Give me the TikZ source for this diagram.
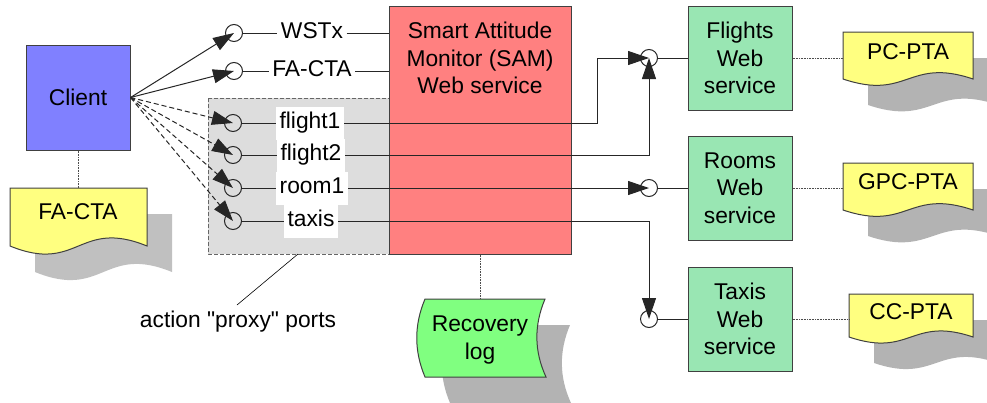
\documentclass[tikz,border=0pt]{standalone}
\usepackage{fontspec}
\setmainfont{Liberation Sans}[Ligatures=TeXOff]
\usetikzlibrary{arrows.meta,calc}

\definecolor{clientblue}{HTML}{8080FF}
\definecolor{samred}{HTML}{FF8080}
\definecolor{svcgreen}{HTML}{99E6B3}
\definecolor{docyellow}{HTML}{FFFF80}
\definecolor{loggreen}{HTML}{80FF80}
\definecolor{proxygray}{HTML}{DDDDDD}
\definecolor{shadowgray}{HTML}{B3B3B3}
\definecolor{shadowlight}{HTML}{C0C0C0}
\definecolor{edgegray}{HTML}{404040}

% document shape: flat top, wavy bottom  {x1}{y1}{x2}{y2}{wave}{style}
\newcommand{\docshape}[6]{%
  \path[#6] (#1,#2) -- (#3,#2) -- (#3,#4)
    .. controls ({(#1+#3)/2},{#4-#5}) and ({(#1+#3)/2},{#4+#5}) .. (#1,#4) -- cycle;}

% stored-data shape with curved sides  {x1}{y1}{x2}{y2}{style}
\newcommand{\logshape}[5]{%
  \path[#5] (#1,#2) -- (#3,#2)
    .. controls ({#3-11},{#2+(#4-#2)/3}) and ({#3-11},{#2+2*(#4-#2)/3}) .. ({#3+1},#4)
    -- (#1,#4)
    .. controls ({#1-11},{#2+2*(#4-#2)/3}) and ({#1-11},{#2+(#4-#2)/3}) .. (#1,#2) -- cycle;}

\tikzset{
  box/.style={rectangle, draw=edgegray, line width=1pt, inner sep=0pt, align=center},
  clientbox/.style={box, fill=clientblue, minimum width=104pt, minimum height=105pt},
  sambox/.style={box, fill=samred, minimum width=182pt, minimum height=248pt},
  svcbox/.style={box, fill=svcgreen, minimum width=104pt, minimum height=104pt},
  port/.style={circle, draw=black!85, line width=1pt, minimum size=17pt, inner sep=0pt},
  plabel/.style={rectangle, fill=white, inner xsep=3.5pt, inner ysep=0pt,
                 minimum height=33pt, text height=16.5pt, text depth=5pt},
  txt/.style={inner sep=0pt, align=center},
  conn/.style={draw=black!85, line width=1pt},
  arrowed/.style={-{Triangle[length=21pt,width=14pt]}},
  dashconn/.style={conn, dash pattern=on 5pt off 3pt},
  dotline/.style={draw=black!70, line width=0.8pt, dash pattern=on 1pt off 0.6pt},
  docfill/.style={fill=docyellow, draw=edgegray, line width=1pt},
  shadowfill/.style={fill=shadowgray},
}

\begin{document}
\begin{tikzpicture}[x=1pt, y=-1pt, font=\fontsize{22.8}{27.5}\selectfont]
\clip (0,0) rectangle (987,402);
\useasboundingbox (0,0) rectangle (987,402);

% ---------- shadows ----------
\begin{scope}[shift={(25,26)}]
  \docshape{10}{188}{147}{246}{28}{fill=shadowlight}
  \docshape{843}{32}{973}{79}{22}{shadowfill}
  \docshape{843}{163}{973}{210}{22}{shadowfill}
  \docshape{849}{294}{973}{337}{21}{shadowfill}
  \logshape{425}{299}{545}{377}{shadowfill}
\end{scope}

% ---------- client and its policy document ----------
\node[clientbox] (client) at (78,97.5) {Client};
\docshape{10}{188}{147}{246}{28}{docfill}
\node[txt] (factaT) at (78,212) {FA-CTA};
\coordinate (factaTop) at (78,188);
\draw[dotline] (client) -- (factaTop);

% ---------- proxy port group ----------
\path[fill=proxygray, draw=black!60, line width=1pt, dash pattern=on 4pt off 2pt]
  (208,98) rectangle (390,254);

% ---------- SAM service ----------
\node[sambox] (sam) at (480,130) {};
\node[txt] (samT) at (480,58) {Smart Attitude\\Monitor (SAM)\\Web service};

% recovery log
\logshape{425}{299}{545}{377}{fill=loggreen, draw=edgegray, line width=1pt}
\node[txt] (logT) at (480,340) {Recovery\\log};
\coordinate (logTop) at (480,299);
\draw[dotline] (sam) -- (logTop);

% ---------- SAM ports ----------
\node[port] (pW) at (234,33) {};
\node[port] (pA) at (234,71) {};
\node[port] (p1) at (233,123) {};
\node[port] (p2) at (233,155) {};
\node[port] (p3) at (233,188) {};
\node[port] (p4) at (233,221) {};

\node[plabel] (lW) at (312,33) {WSTx};
\node[plabel] (lA) at (312,71) {FA-CTA};
\node[plabel] (l1) at (310,123) {flight1};
\node[plabel] (l2) at (311,155) {flight2};
\node[plabel] (l3) at (312,188) {room1};
\node[plabel] (l4) at (311,221) {taxis};

% ---------- partner services ----------
\node[svcbox] (flights) at (740,58) {Flights\\Web\\service};
\node[svcbox] (rooms)   at (740,188) {Rooms\\Web\\service};
\node[svcbox] (taxis)   at (740,319) {Taxis\\Web\\service};

\node[port] (fP) at (649,58) {};
\node[port] (rP) at (649,188) {};
\node[port] (tP) at (649,319) {};

\draw[conn] (fP) -- (flights);
\draw[conn] (rP) -- (rooms);
\draw[conn] (tP) -- (taxis);

% partner policy documents
\docshape{843}{32}{973}{79}{22}{docfill}
\docshape{843}{163}{973}{210}{22}{docfill}
\docshape{849}{294}{973}{337}{21}{docfill}
\node[txt] (pcT)  at (908,52)  {PC-PTA};
\node[txt] (gpcT) at (908,182) {GPC-PTA};
\node[txt] (ccT)  at (911,312) {CC-PTA};
\coordinate (pcL)  at (843,58);
\coordinate (gpcL) at (843,188);
\coordinate (ccL)  at (849,319);
\draw[dotline] (flights) -- (pcL);
\draw[dotline] (rooms) -- (gpcL);
\draw[dotline] (taxis) -- (ccL);

% ---------- wiring ----------
\coordinate (bendA) at (597,58);
\draw[conn] (pW) -- (lW) -- (lW -| sam.west);
\draw[conn] (pA) -- (lA) -- (lA -| sam.west);
\draw[conn] (p1) -- (l1);
\draw[conn, arrowed] (l1) -- (l1 -| bendA) -- (bendA) -- (fP.center);
\draw[conn] (p2) -- (l2);
\draw[conn, arrowed] (l2) -- (l2 -| fP) -- (fP.center);
\draw[conn] (p3) -- (l3);
\draw[conn, arrowed] (l3) -- (rP.center);
\draw[conn] (p4) -- (l4);
\draw[conn, arrowed] (l4) -- (l4 -| tP) -- (tP.center);

% client invocations
\draw[conn, arrowed] (client.east) -- (pW.center);
\draw[conn, arrowed] (client.east) -- (pA.center);
\draw[dashconn, arrowed] (client.east) -- (p1.center);
\draw[dashconn, arrowed] (client.east) -- (p2.center);
\draw[dashconn, arrowed] (client.east) -- (p3.center);
\draw[dashconn, arrowed] (client.east) -- (p4.center);

% annotation
\coordinate (annTop) at (298,254);
\coordinate (annEnd) at (237,305);
\node[txt] (ann) at (238,322) {action "proxy" ports};
\draw[black, line width=0.6pt] (annTop) -- (annEnd);
\end{tikzpicture}
\end{document}
